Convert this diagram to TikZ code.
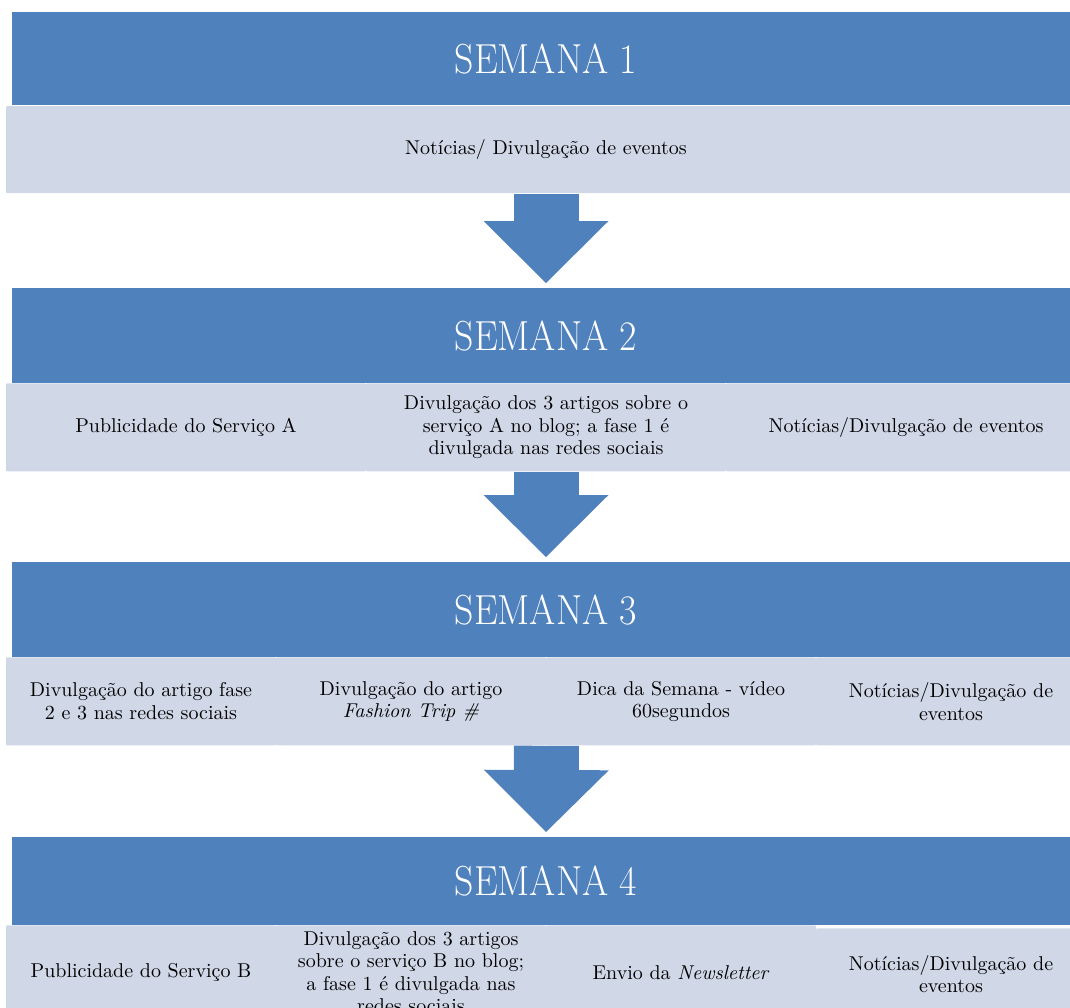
\documentclass[tikz,border=0pt]{standalone}
\usepackage{fontspec}
\newfontfamily\headfont{Latin Modern Roman}[FakeStretch=0.9]
\usepackage{xcolor}
\definecolor{weekBlue}{RGB}{79,129,189}
\definecolor{cellGray}{RGB}{208,216,232}
\usepackage{tikz}
\usetikzlibrary{positioning,arrows.meta}

\begin{document}
\begin{tikzpicture}[x=0.5pt,y=-0.5pt,
  weekhead/.style={fill=weekBlue, text=white, anchor=north, minimum width=534pt, minimum height=47.5pt, inner sep=0pt, font=\headfont\fontsize{21}{24}\selectfont},
  weekcell/.style={fill=cellGray, anchor=north, rounded corners=0.5pt, minimum height=44pt, inner sep=0pt, align=center, font=\fontsize{10}{11.25}\selectfont},
  flowarrow/.style={draw=weekBlue, line width=32.5pt, -{Triangle[length=31pt, width=62.5pt, line width=0pt]}, shorten >=2.5pt}
]
\useasboundingbox (0,0) rectangle (1070,1007);

% semana 1
\node[weekhead, minimum height=46.5pt] (h1) at (546,12) {SEMANA 1};
\node[weekcell, minimum width=540pt, minimum height=43.5pt, below=0pt of h1] (b1) {Notícias/ Divulgação de eventos};

% semana 2
\node[weekhead] (h2) at (546,288) {SEMANA 2};
\node[weekcell, minimum width=180pt] (b2a) at (186,383) {Publicidade do Serviço A};
\node[weekcell, minimum width=180pt] (b2b) at (546,383) {Divulgação dos 3 artigos sobre o\\ serviço A no blog; a fase 1 é\\ divulgada nas redes sociais};
\node[weekcell, minimum width=180pt] (b2c) at (906,383) {Notícias/Divulgação de eventos};

% semana 3
\node[weekhead] (h3) at (546,562) {SEMANA 3};
\node[weekcell, minimum width=135pt] (b3a) at (141,657) {Divulgação do artigo fase\\ 2 e 3 nas redes sociais};
\node[weekcell, minimum width=135pt] (b3b) at (411,657) {Divulgação do artigo\\ \textit{Fashion Trip \#}};
\node[weekcell, minimum width=135pt] (b3c) at (681,657) {Dica da Semana - vídeo\\ 60segundos};
\node[weekcell, minimum width=135pt] (b3d) at (951,657) {Notícias/Divulgação de\\ eventos};

% semana 4
\node[weekhead, minimum height=44pt] (h4) at (546,837) {SEMANA 4};
\node[weekcell, minimum width=135pt, minimum height=47pt] (b4a) at (141,925) {Publicidade do Serviço B};
\node[weekcell, minimum width=135pt, minimum height=47pt] (b4b) at (411,925) {Divulgação dos 3 artigos\\ sobre o serviço B no blog;\\ a fase 1 é divulgada nas\\ redes sociais};
\node[weekcell, minimum width=135pt, minimum height=47pt] (b4c) at (681,925) {Envio da \textit{Newsletter}};
\node[weekcell, minimum width=135pt, minimum height=45.5pt] (b4d) at (951,928) {Notícias/Divulgação de\\ eventos};

% setas
\draw[flowarrow] (b1.south) -- (h2.north);
\draw[flowarrow] (b2b.south) -- (h3.north);
\draw[flowarrow] (b3b.south east) -- (h4.north);
\end{tikzpicture}
\end{document}
